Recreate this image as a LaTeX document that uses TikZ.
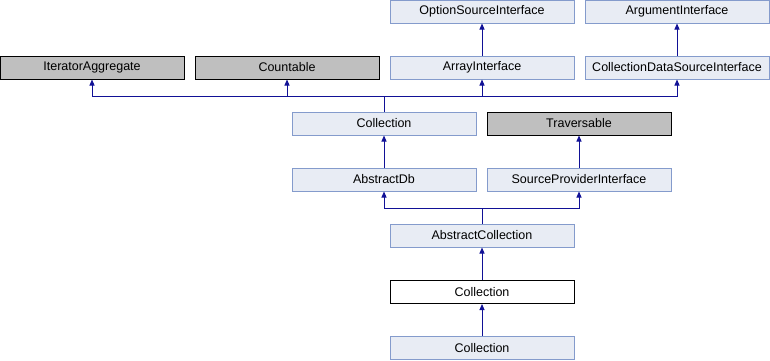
\documentclass[tikz,border=0pt]{standalone}
\usepackage{fontspec}
\setmainfont{Liberation Sans}
\usetikzlibrary{arrows.meta}
\definecolor{boxfill}{RGB}{232,236,244}
\definecolor{boxline}{RGB}{132,155,204}
\definecolor{grayfill}{RGB}{191,191,191}
\definecolor{edge}{RGB}{17,17,150}
\begin{document}
\begin{tikzpicture}[x=1pt,y=-1pt,
  cls/.style={draw=boxline,fill=boxfill,line width=1pt,minimum width=184pt,minimum height=23pt,inner sep=0pt,font=\fontsize{12.5}{14}\selectfont},
  ext/.style={cls,draw=black,fill=grayfill},
  cur/.style={cls,draw=black,fill=white},
  arr/.style={draw=edge,line width=1pt,-{Triangle[width=5pt,length=6pt]}},
  ln/.style={draw=edge,line width=1pt}]
\useasboundingbox (0,0) rectangle (770,360);
\node[cls] (osi) at (482,11.5) {OptionSourceInterface};
\node[cls] (ai) at (677,11.5) {ArgumentInterface};
\node[ext] (ia) at (92,67.5) {IteratorAggregate};
\node[ext] (cnt) at (287,67.5) {Countable};
\node[cls] (arr) at (482,67.5) {ArrayInterface};
\node[cls] (cdsi) at (677,67.5) {CollectionDataSourceInterface};
\node[cls] (c1) at (384,123.5) {Collection};
\node[ext] (trav) at (579,123.5) {Traversable};
\node[cls] (adb) at (384,179.5) {AbstractDb};
\node[cls] (spi) at (579,179.5) {SourceProviderInterface};
\node[cls] (ac) at (482,235.5) {AbstractCollection};
\node[cur] (c2) at (482,292) {Collection};
\node[cls] (c3) at (482,348) {Collection};
\coordinate (bus1) at (384,96);
\coordinate (bus2) at (482,208);
\draw[arr] (arr.north) -- (osi.south);
\draw[arr] (cdsi.north) -- (ai.south);
\draw[ln] (c1.north) -- (bus1);
\draw[arr] (bus1) -| (ia.south);
\draw[arr] (bus1) -| (cnt.south);
\draw[arr] (bus1) -| (arr.south);
\draw[arr] (bus1) -| (cdsi.south);
\draw[arr] (adb.north) -- (c1.south);
\draw[arr] (spi.north) -- (trav.south);
\draw[ln] (ac.north) -- (bus2);
\draw[arr] (bus2) -| (adb.south);
\draw[arr] (bus2) -| (spi.south);
\draw[arr] (c2.north) -- (ac.south);
\draw[arr] (c3.north) -- (c2.south);
\end{tikzpicture}
\end{document}
